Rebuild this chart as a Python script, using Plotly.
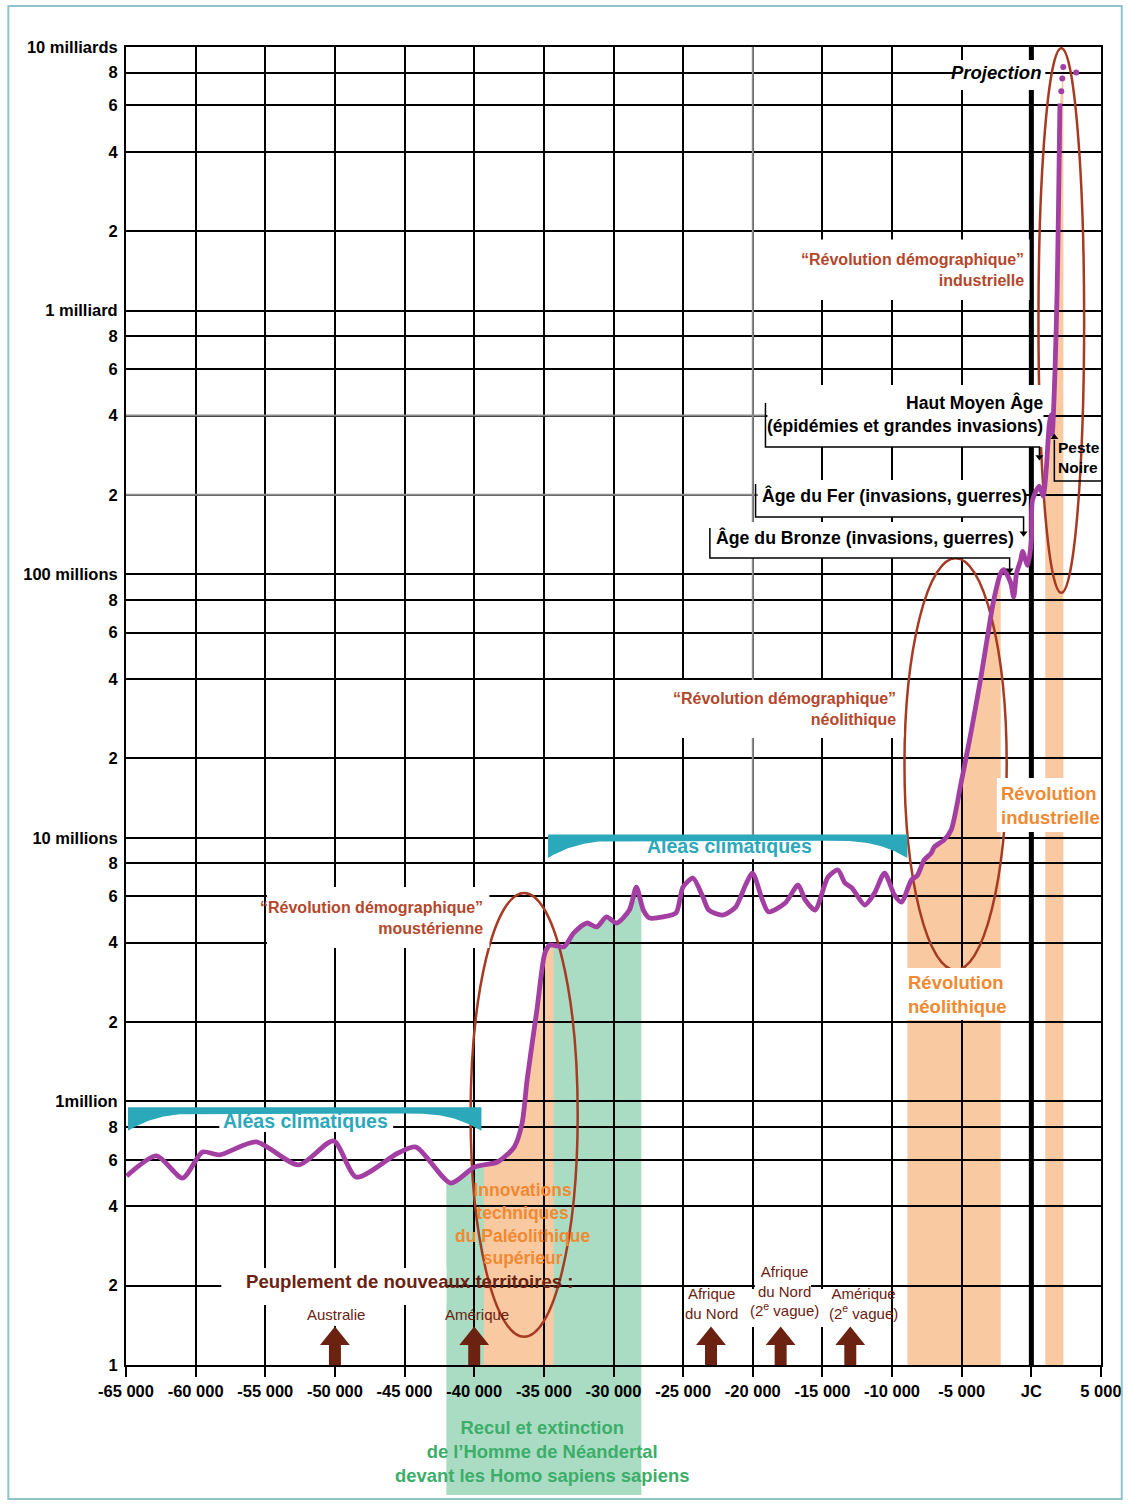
import math
import numpy as np
import plotly.graph_objects as go

# ---------------- data ----------------
years = [-64950, -62810, -60940, -59510, -58300, -55660, -52600, -50100, -48460, -45470,
         -44180, -41690, -39980, -38340, -37130, -36560, -36200, -35500, -34920, -34560,
         -33560, -32850, -31920, -31210, -30500, -29780, -28860, -28360, -27860, -27430,
         -26430, -25510, -25010, -24300, -23580, -23160, -22160, -21230, -20520, -20020,
         -19310, -18880, -17670, -16740, -16240, -15530, -14600, -13890, -13390, -12890,
         -11960, -11250, -10540, -9830, -9330, -8610, -8190, -7690, -7190, -6970,
         -6260, -5760, -5050, -4340, -3620, -3190, -2700, -2200, -1980, -1480,
         -1270, -1060, -770, -630, -270, 0, 80, 570, 850, 1070,
         1280, 1400, 1500, 1700, 1850, 1950, 2050]
population = [521e3, 621e3, 512e3, 643e3, 627e3, 702e3, 574e3, 708e3, 516e3, 637e3,
              671e3, 490e3, 564e3, 589e3, 671e3, 828e3, 1.21e6, 2.22e6, 3.66e6, 3.92e6,
              3.86e6, 4.36e6, 4.75e6, 4.59e6, 5.01e6, 4.75e6, 5.32e6, 6.50e6, 5.32e6, 4.97e6,
              5.01e6, 5.19e6, 6.50e6, 7.03e6, 5.96e6, 5.32e6, 5.09e6, 5.46e6, 6.62e6, 7.35e6,
              5.81e6, 5.24e6, 5.66e6, 6.62e6, 5.81e6, 5.32e6, 7.10e6, 7.55e6, 6.75e6, 6.46e6,
              5.56e6, 6.18e6, 7.35e6, 6.07e6, 5.70e6, 6.92e6, 7.20e6, 8.24e6, 8.75e6, 9.23e6,
              9.82e6, 1.07e7, 1.61e7, 2.50e7, 4.07e7, 5.62e7, 7.98e7, 1.01e8, 1.04e8, 9.27e7,
              8.20e7, 1.01e8, 1.13e8, 1.22e8, 1.08e8, 1.34e8, 1.91e8, 2.16e8, 1.98e8, 2.51e8,
              3.68e8, 4.02e8, 3.40e8, 6.0e8, 1.2e9, 2.5e9, 6.1e9]

proj_years = [2150, 2220, 2290, 3220]
proj_population = [6.8e9, 7.6e9, 8.4e9, 8.0e9]

x_tickvals = list(range(-65000, 5001, 5000))
x_ticktext = ["-65 000", "-60 000", "-55 000", "-50 000", "-45 000", "-40 000", "-35 000",
              "-30 000", "-25 000", "-20 000", "-15 000", "-10 000", "-5 000", "JC", "5 000"]

y_tickvals = [1e5, 2e5, 4e5, 6e5, 8e5, 1e6, 2e6, 4e6, 6e6, 8e6, 1e7, 2e7, 4e7, 6e7, 8e7,
              1e8, 2e8, 4e8, 6e8, 8e8, 1e9, 2e9, 4e9, 6e9, 8e9, 1e10]
y_ticktext = ["1", "2", "4", "6", "8", "1million", "2", "4", "6", "8", "10 millions",
              "2", "4", "6", "8", "100 millions", "2", "4", "6", "8", "1 milliard",
              "2", "4", "6", "8", "10 milliards"]

migration_years = [-50000, -40000, -23000, -18000, -13000]
migration_labels = ["Australie", "Amérique", "Afrique<br>du Nord",
                    "Afrique<br>du Nord<br>(2<sup>e</sup> vague)", "Amérique<br>(2<sup>e</sup> vague)"]

neanderthal_period = (-42000, -28000)
revolution_periods = [(-39300, -34300), (-8900, -2200), (1000, 2300)]
climate_periods = [(-64860, -39480, 9.5e5), (-34700, -8900, 1.03e7)]
# ellipses (x0, x1, y0, y1)
revolution_ellipses = [(-40260, -32570, 1.28e5, 6.18e6),
                       (-9110, -1770, 3.15e6, 1.15e8),
                       (510, 3790, 8.5e7, 9.9e9)]

# ---------------- styles ----------------
FONT = "Liberation Sans, Arial, sans-serif"
PURPLE = "#A33EA3"
ELLIPSE = "#A63A22"
BROWN_TXT = "#B4472B"
ORANGE_TXT = "#F08A32"
TEAL = "#2CA8BB"
GREEN_TXT = "#3CAE6A"
DARK_BROWN = "#6B2210"
BAND_ORANGE = "#F9C9A1"
BAND_GREEN = "#A9DCC3"

all_x = years + proj_years
all_ly = np.log10(population + proj_population)


def curve_at(x):
    return 10 ** float(np.interp(x, all_x, all_ly))


def under_curve_path(x0, x1):
    xs = [x0] + [x for x in all_x if x0 < x < x1] + [x1]
    pts = [(x0, 1e5)] + [(x, curve_at(x)) for x in xs] + [(x1, 1e5)]
    return "M " + " L ".join(f"{x:.1f},{y:.1f}" for x, y in pts) + " Z"


fig = go.Figure()
shapes = []

# bands below the grid
shapes.append(dict(type="path", path=under_curve_path(*neanderthal_period), xref="x", yref="y",
                   fillcolor=BAND_GREEN, line=dict(width=0), layer="below"))
shapes.append(dict(type="rect", xref="x", yref="paper", x0=neanderthal_period[0], x1=neanderthal_period[1],
                   y0=-0.0986, y1=0, fillcolor=BAND_GREEN, line=dict(width=0), layer="below"))
for (a, b) in revolution_periods:
    shapes.append(dict(type="path", path=under_curve_path(a, b), xref="x", yref="y",
                       fillcolor=BAND_ORANGE, line=dict(width=0), layer="below"))

# grey portions of the grid
GREY = "#8c8c8c"
shapes.append(dict(type="line", xref="x", yref="y", x0=-20000, x1=-20000, y0=1e7, y1=1e10,
                   line=dict(color=GREY, width=2), layer="between"))
shapes.append(dict(type="line", xref="x", yref="y", x0=-65000, x1=-19100, y0=4e8, y1=4e8,
                   line=dict(color=GREY, width=2), layer="between"))
shapes.append(dict(type="line", xref="x", yref="y", x0=-65000, x1=-19700, y0=2e8, y1=2e8,
                   line=dict(color=GREY, width=2), layer="between"))

# JC line
shapes.append(dict(type="line", xref="x", yref="paper", x0=0, x1=0, y0=0, y1=1,
                   line=dict(color="black", width=5), layer="between"))

# ellipses
for (a, b, c, d) in revolution_ellipses:
    shapes.append(dict(type="circle", xref="x", yref="y", x0=a, x1=b, y0=c, y1=d,
                       line=dict(color=ELLIPSE, width=2.5), layer="between"))

# white masks behind labels
masks = [(-16600, -130, 9.04, 9.27), (-5400, 1000, 9.837, 9.951), (-18950, 870, 8.483, 8.718),
         (-19660, -410, 8.217, 8.357), (-22940, -1410, 8.061, 8.198), (-25290, -9180, 7.379, 7.599),
         (-2480, 5000, 7.022, 7.227), (-27650, -15530, 6.919, 6.995), (-54880, -38910, 6.582, 6.813),
         (-9110, -1840, 6.309, 6.506), (-58300, -45820, 5.884, 5.956), (-58160, -42000, 5.228, 5.368),
         (-51880, -47890, 5.148, 5.228), (-24800, -20800, 5.144, 5.288), (-19850, -15815, 5.288, 5.406),
         (-20160, -14900, 5.144, 5.288), (-14900, -10100, 5.144, 5.288)]
for (a, b, c, d) in masks:
    shapes.append(dict(type="rect", xref="x", yref="y", x0=a, x1=b, y0=10 ** c, y1=10 ** d,
                       fillcolor="white", line=dict(width=0), layer="between"))


# brackets for the period labels
def bracket(pts):
    return "M " + " L ".join(f"{x:.1f},{10 ** y:.1f}" for x, y in pts)


brackets = [
    [(-19090, 8.649), (-19090, 8.483), (580, 8.483), (580, 8.45)],
    [(-19800, 8.342), (-19800, 8.217), (-560, 8.217), (-560, 8.16)],
    [(-23080, 8.175), (-23080, 8.061), (-1560, 8.061), (-1560, 8.02)],
    [(5000, 8.354), (1650, 8.354), (1650, 8.51)],
]
for b in brackets:
    shapes.append(dict(type="path", path=bracket(b), xref="x", yref="y",
                       line=dict(color="black", width=1.5), layer="above"))

# frame around the whole picture (kept inside the page)
shapes.append(dict(type="rect", xref="paper", yref="paper", x0=-0.1207, x1=1.0213, y0=-0.1017, y1=1.0311,
                   line=dict(color="#8FC3CB", width=2), layer="above"))

# climate braces (teal)
for (a, b, top) in climate_periods:
    u = np.linspace(0, 1, 200)
    xs_top = a + (b - a) * u
    d = np.clip(np.minimum(u, 1 - u) / 0.2, 0, 1)
    ltop = math.log10(top)
    lbot = ltop - 0.024 - 0.065 * (1 - d) ** 2.5
    xs = np.concatenate([xs_top, xs_top[::-1]])
    ys = np.concatenate([np.full_like(u, top), (10 ** lbot)[::-1]])
    fig.add_trace(go.Scatter(x=xs, y=ys, fill="toself", fillcolor=TEAL, mode="lines",
                             line=dict(width=0), hoverinfo="skip", showlegend=False))

# migration arrows
for c in migration_years:
    ax = [c - 430, c - 430, c - 1070, c, c + 1070, c + 430, c + 430]
    ay = [1e5, 1.19e5, 1.19e5, 1.40e5, 1.19e5, 1.19e5, 1e5]
    fig.add_trace(go.Scatter(x=ax, y=ay, fill="toself", fillcolor=DARK_BROWN, mode="lines",
                             line=dict(width=0, color=DARK_BROWN), hoverinfo="skip", showlegend=False))

# population curve
fig.add_trace(go.Scatter(x=years, y=population, mode="lines",
                         line=dict(color=PURPLE, width=4.8, shape="spline", smoothing=0.7),
                         showlegend=False))
fig.add_trace(go.Scatter(x=proj_years, y=proj_population, mode="markers",
                         marker=dict(color=PURPLE, size=6), showlegend=False))

# arrow heads of the brackets
fig.add_trace(go.Scatter(x=[580, -560, -1560], y=[10 ** 8.445, 10 ** 8.155, 10 ** 8.015], mode="markers",
                         marker=dict(symbol="triangle-down", size=7, color="black"),
                         hoverinfo="skip", showlegend=False))
fig.add_trace(go.Scatter(x=[1650], y=[10 ** 8.52], mode="markers",
                         marker=dict(symbol="triangle-up", size=7, color="black"),
                         hoverinfo="skip", showlegend=False))

# ---------------- annotations ----------------
ann = []


def txt(x, ly, text, color="black", size=16, bold=True, xanchor="center", align="center",
        italic=False, yref="y"):
    ann.append(dict(x=x, y=ly, xref="x", yref=yref, text=text, showarrow=False,
                    xanchor=xanchor, yanchor="middle", align=align,
                    font=dict(family=FONT, size=size, color=color,
                              weight="bold" if bold else "normal",
                              style="italic" if italic else "normal")))


txt(855, 9.905, "Projection", size=18.5, xanchor="right", italic=True)
txt(-350, 9.154, "“Révolution démographique”<br>industrielle", color=BROWN_TXT, size=16,
    xanchor="right", align="right")
txt(1000, 8.608, "Haut Moyen Âge<br>(épidémies et grandes invasions)", size=17.5,
    xanchor="right", align="right")
txt(1790, 8.441, "Peste<br>Noire", size=15.5, xanchor="left", align="left")
txt(-19450, 8.300, "Âge du Fer (invasions, guerres)", size=17.7, xanchor="left")
txt(-22800, 8.141, "Âge du Bronze (invasions, guerres)", size=17.7, xanchor="left")
txt(-9610, 7.489, "“Révolution démographique”<br>néolithique", color=BROWN_TXT, size=16,
    xanchor="right", align="right")
txt(-2340, 7.124, "Révolution<br>industrielle", color=ORANGE_TXT, size=18.5, xanchor="left", align="left")
txt(-21660, 6.969, "Aléas climatiques", color=TEAL, size=19.5)
txt(-39195, 6.696, "“Révolution démographique”<br>moustérienne", color=BROWN_TXT, size=16,
    xanchor="right", align="right")
txt(-8970, 6.407, "Révolution<br>néolithique", color=ORANGE_TXT, size=18.5, xanchor="left", align="left")
txt(-52100, 5.926, "Aléas climatiques", color=TEAL, size=19.5)
txt(-36560, 5.535, "Innovations<br>techniques<br>du Paléolithique<br>supérieur", color=ORANGE_TXT, size=17.5)
txt(-44610, 5.315, "Peuplement de nouveaux territoires :", color=DARK_BROWN, size=18.6)
label_pos = [(-49890, 5.190), (-39770, 5.190), (-22940, 5.235), (-17740, 5.281), (-12030, 5.235)]
for (lx, ly), lab in zip(label_pos, migration_labels):
    txt(lx, ly, lab, color=DARK_BROWN, size=15, bold=False)
txt(-35130, -0.066, "Recul et extinction<br>de l’Homme de Néandertal<br>devant les Homo sapiens sapiens",
    color=GREEN_TXT, size=18.4, yref="paper")

fig.update_layout(
    width=1134, height=1504,
    margin=dict(l=126, r=22, t=47, b=139),
    paper_bgcolor="white", plot_bgcolor="white",
    shapes=shapes, annotations=ann, showlegend=False,
    xaxis=dict(range=[-65000, 5000], tickvals=x_tickvals, ticktext=x_ticktext,
               showgrid=True, gridcolor="black", gridwidth=2, zeroline=False,
               showline=True, mirror=True, linecolor="black", linewidth=2,
               ticks="outside", ticklen=10, tickwidth=2, tickcolor="black",
               tickfont=dict(family=FONT, size=16.5, color="black", weight="bold")),
    yaxis=dict(type="log", range=[5, 10], tickvals=y_tickvals, ticktext=y_ticktext,
               showgrid=True, gridcolor="black", gridwidth=2, zeroline=False,
               showline=True, mirror=True, linecolor="black", linewidth=2,
               ticks="", ticklabelstandoff=3,
               tickfont=dict(family=FONT, size=16.5, color="black", weight="bold")),
)

fig.write_html("out.html", config={"displayModeBar": False},
               post_script="document.body.style.margin='0';document.body.style.overflow='hidden';")
